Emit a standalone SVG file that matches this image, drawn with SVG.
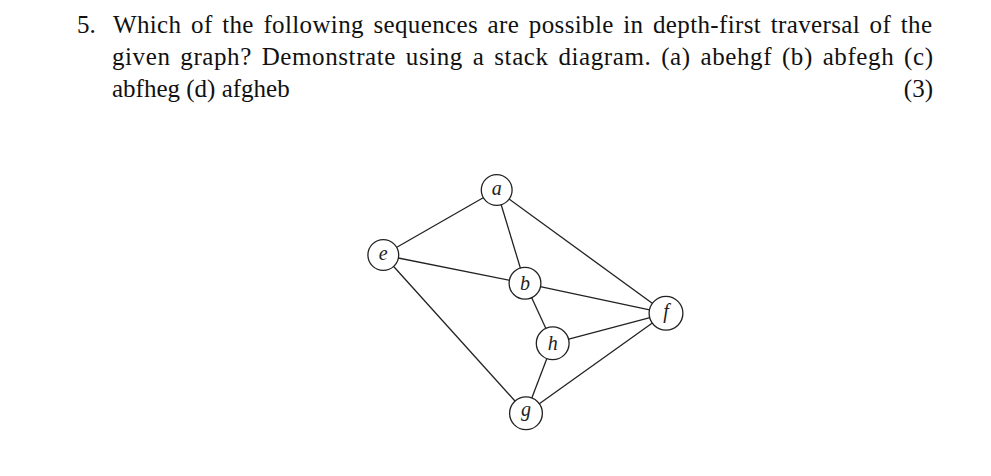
<svg xmlns="http://www.w3.org/2000/svg" width="991" height="476" viewBox="0 0 991 476">
<style>
.q{font-family:"Liberation Serif","Times New Roman",serif;font-size:25px;fill:#111}
.node circle{fill:#fff;stroke:#222;stroke-width:1.3}
.node text{font-family:"Liberation Serif","Times New Roman",serif;font-style:italic;font-size:20px;fill:#222;text-anchor:middle}
#edges line{stroke:#222;stroke-width:1.3}
</style>
<rect width="991" height="476" fill="#fff"/>
<g id="question">
<text class="q" x="77" y="33">5.</text>
<text class="q" x="113" y="33" textLength="819" lengthAdjust="spacing" word-spacing="3">Which of the following sequences are possible in depth-first traversal of the</text>
<text class="q" x="112" y="65" textLength="821" lengthAdjust="spacing" word-spacing="3">given graph? Demonstrate using a stack diagram. (a) abehgf (b) abfegh (c)</text>
<text class="q" x="112" y="97">abfheg (d) afgheb</text>
<text class="q" x="933" y="97" text-anchor="end">(3)</text>
</g>
<g id="edges">
<line x1="496.7" y1="190" x2="383.3" y2="255"/>
<line x1="496.7" y1="190" x2="525" y2="283.3"/>
<line x1="496.7" y1="190" x2="666" y2="313.3"/>
<line x1="383.3" y1="255" x2="525" y2="283.3"/>
<line x1="383.3" y1="255" x2="526" y2="413.3"/>
<line x1="525" y1="283.3" x2="666" y2="313.3"/>
<line x1="525" y1="283.3" x2="552.7" y2="343.3"/>
<line x1="552.7" y1="343.3" x2="666" y2="313.3"/>
<line x1="552.7" y1="343.3" x2="526" y2="413.3"/>
<line x1="526" y1="413.3" x2="666" y2="313.3"/>
</g>
<g id="node-a" class="node"><circle cx="496.7" cy="190" r="15.4"/><text x="496.7" y="194.7">a</text></g>
<g id="node-e" class="node"><circle cx="383.3" cy="255" r="15.4"/><text x="383.3" y="259.7">e</text></g>
<g id="node-b" class="node"><circle cx="525" cy="283.3" r="15.9"/><text x="525" y="290">b</text></g>
<g id="node-f" class="node"><circle cx="666" cy="313.3" r="16.9"/><text x="666" y="318">f</text></g>
<g id="node-h" class="node"><circle cx="552.7" cy="343.3" r="16.4"/><text x="552.7" y="350.2">h</text></g>
<g id="node-g" class="node"><circle cx="526" cy="413.3" r="16.4"/><text x="526" y="415.8">g</text></g>
</svg>
